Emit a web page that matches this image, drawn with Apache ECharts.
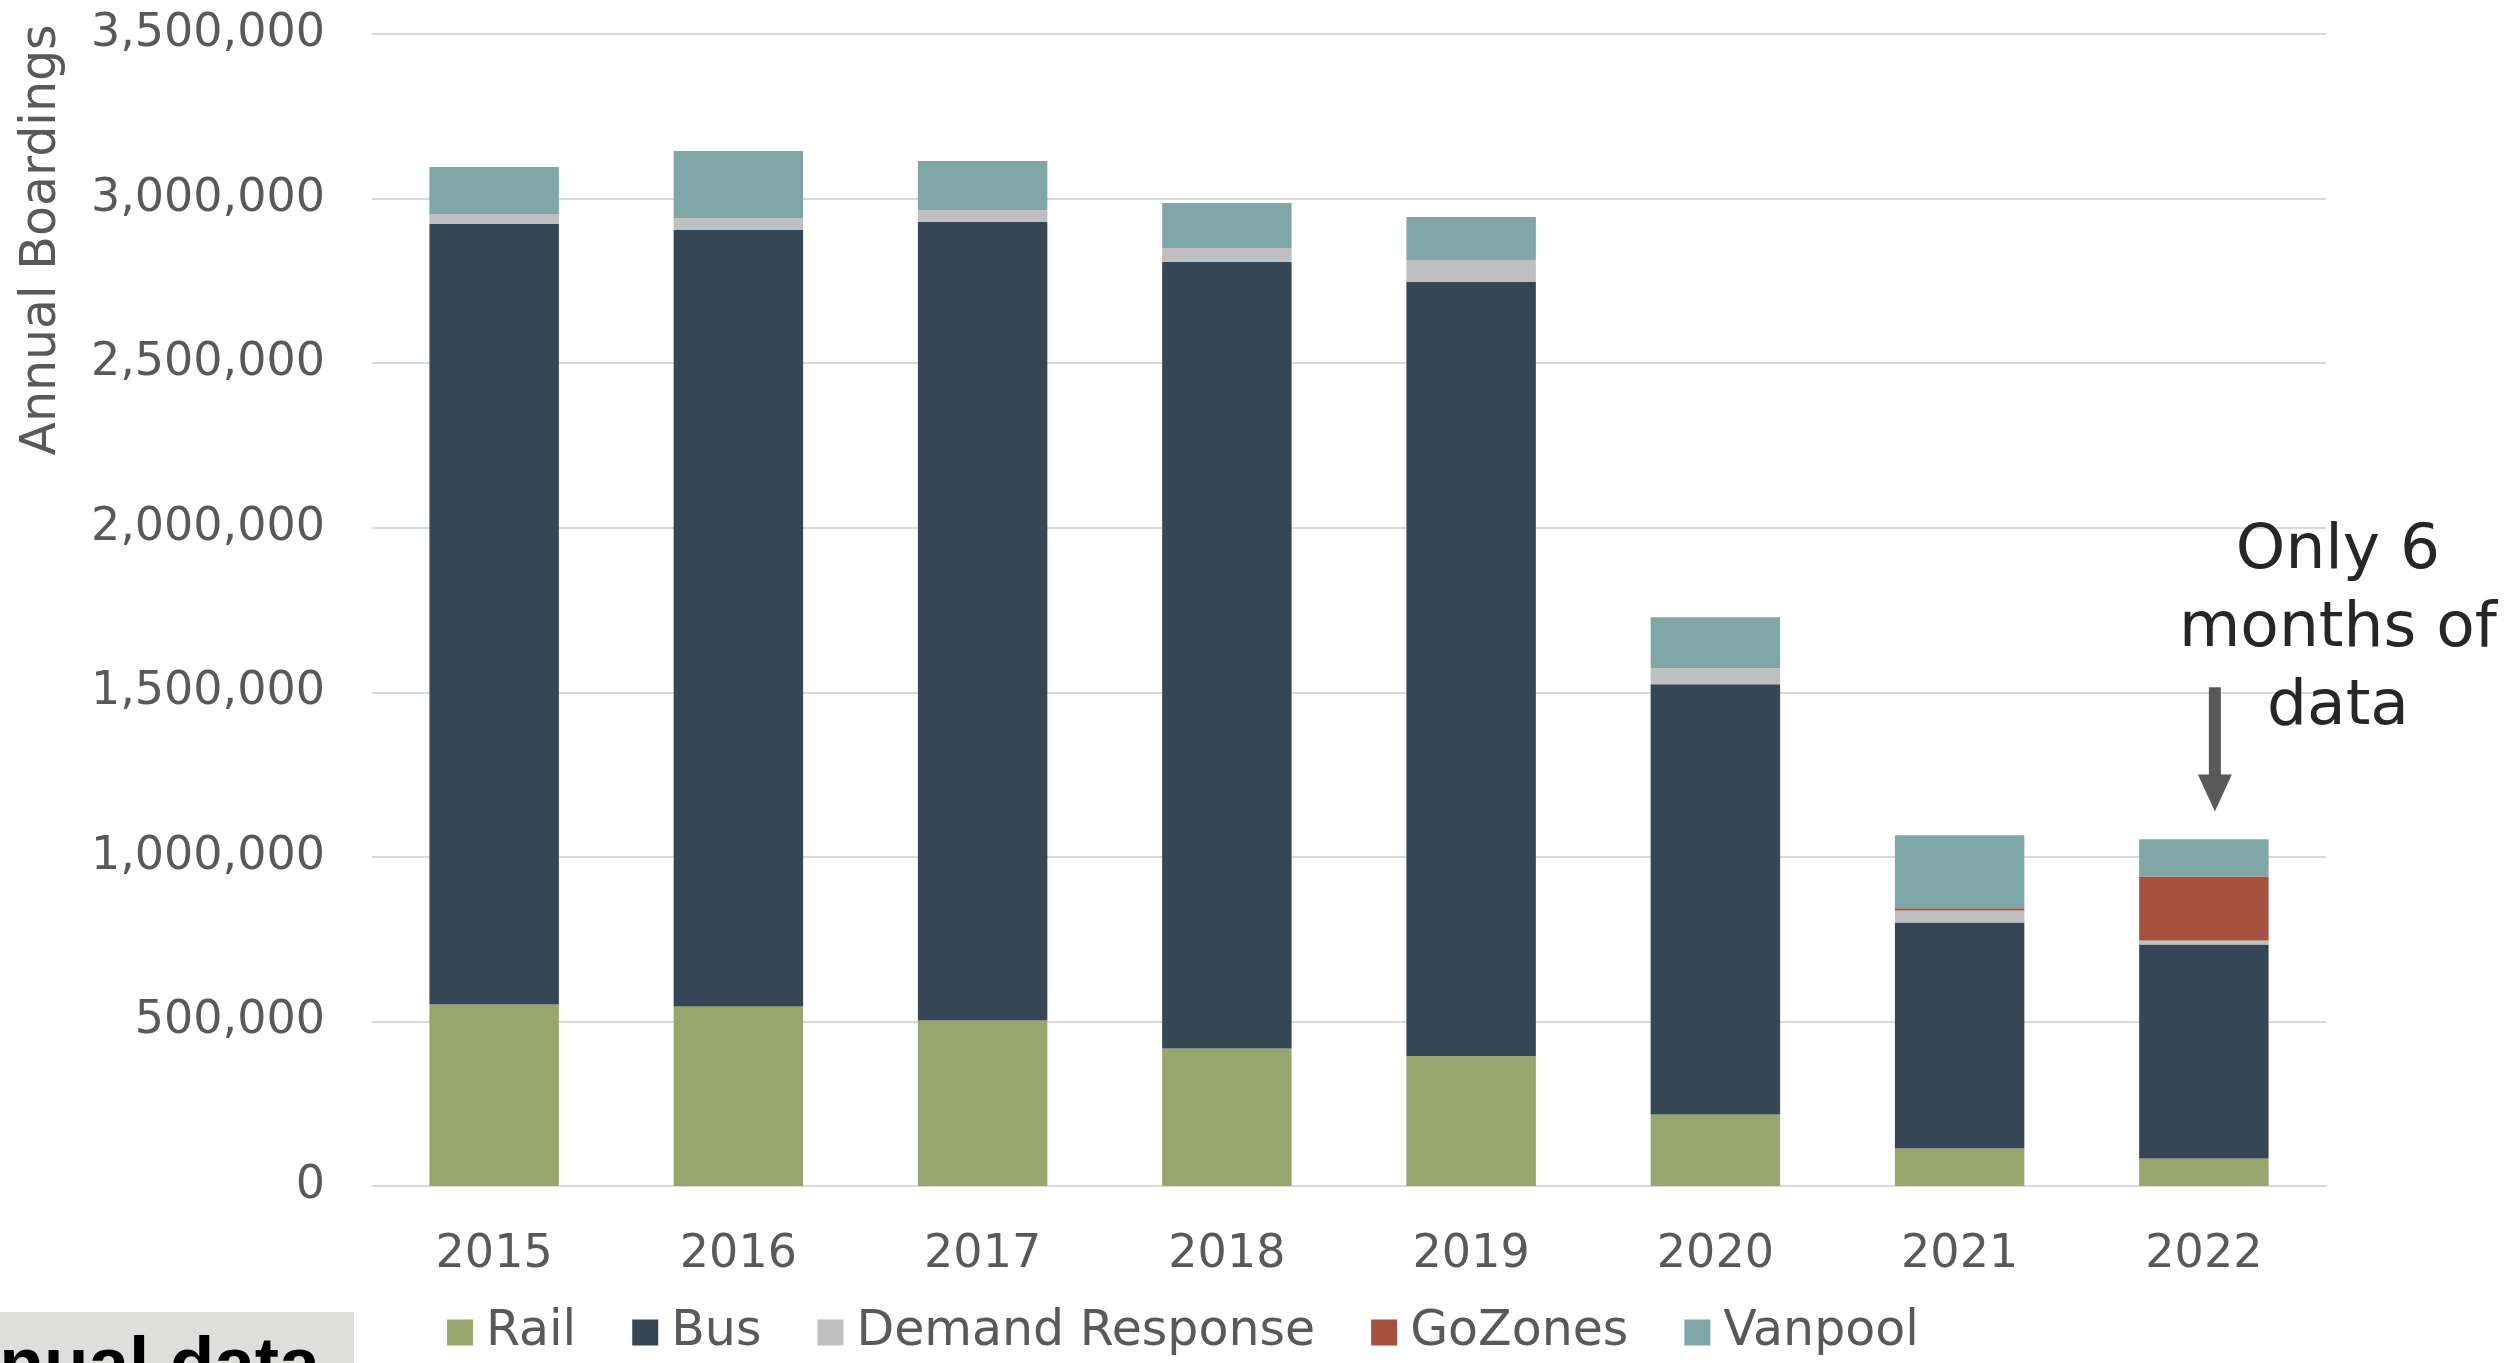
<!DOCTYPE html>
<html>
<head>
<meta charset="utf-8">
<script src="https://cdn.jsdelivr.net/npm/echarts@6/dist/echarts.min.js"></script>
<style>
  html, body { margin: 0; padding: 0; background: #fff; }
  #chart { width: 2514px; height: 1363px; }
</style>
</head>
<body>
<div id="chart"></div>
<script>
// annual boardings by mode
const years = ['2015', '2016', '2017', '2018', '2019', '2020', '2021', '2022'];
const rail = [551700, 545600, 503000, 417900, 395000, 217300, 114000, 83600];
const bus = [2370800, 2358600, 2425600, 2389100, 2351200, 1307000, 686900, 650400];
const demandResponse = [30400, 36500, 36400, 42500, 66900, 48700, 36500, 12200];
const goZones = [0, 0, 0, 0, 0, 0, 6100, 194500];
const vanpool = [142900, 203700, 148900, 136800, 130700, 155000, 221800, 112500];
const yTicks = [0, 500000, 1000000, 1500000, 2000000, 2500000, 3000000, 3500000];

const FONT = '"DejaVu Sans", sans-serif';
const GREY = '#595959';

const chart = echarts.init(document.getElementById('chart'));

function bar(name, data, color) {
  return { type: 'bar', name, stack: 'total', data, barWidth: '53%', itemStyle: { color }, emphasis: { disabled: true } };
}

chart.setOption({
  animation: false,
  backgroundColor: '#fff',
  textStyle: { fontFamily: FONT, color: GREY },
  grid: { left: 372, right: 188, top: 34, bottom: 177 },
  legend: {
    left: 442, top: 1303,
    icon: 'rect', itemWidth: 26, itemHeight: 26, itemGap: 56,
    textStyle: { fontFamily: FONT, fontSize: 49, color: GREY, padding: [0, 0, 0, 8] },
    data: ['Rail', 'Bus', 'Demand Response', 'GoZones', 'Vanpool'],
  },
  xAxis: {
    type: 'category', data: years,
    axisLine: { lineStyle: { color: '#D9D9D9', width: 2 } },
    axisTick: { show: false },
    axisLabel: { fontFamily: FONT, fontSize: 46, color: GREY, margin: 46 },
  },
  yAxis: {
    type: 'value', min: yTicks[0], max: yTicks[yTicks.length - 1], interval: 500000,
    axisLine: { show: false }, axisTick: { show: false },
    splitLine: { lineStyle: { color: '#D9D9D9', width: 2 } },
    axisLabel: { fontFamily: FONT, fontSize: 46, color: GREY, margin: 47, padding: [8, 0, 0, 0], formatter: v => v.toLocaleString('en-US') },
  },
  series: [
    bar('Rail', rail, '#98A56D'),
    bar('Bus', bus, '#354755'),
    bar('Demand Response', demandResponse, '#BFBFBF'),
    bar('GoZones', goZones, '#A5513F'),
    bar('Vanpool', vanpool, '#80A7A7'),
  ],
});

// annotation arrow + text, placed off the 2022 column
const arrowTop = chart.convertToPixel({ xAxisIndex: 0, yAxisIndex: 0 }, ['2022', 1515000]);
const arrowNeck = chart.convertToPixel({ xAxisIndex: 0, yAxisIndex: 0 }, ['2022', 1250000]);
const arrowTip = chart.convertToPixel({ xAxisIndex: 0, yAxisIndex: 0 }, ['2022', 1138000]);
const ax = arrowTop[0] + 11;

chart.setOption({
  graphic: [
    {
      type: 'text', x: 42, y: 240, rotation: Math.PI / 2,
      style: { text: 'Annual Boardings', font: '49px ' + FONT, fill: GREY, align: 'center', verticalAlign: 'middle' },
    },
    {
      type: 'polygon',
      shape: { points: [[ax - 6, arrowTop[1]], [ax + 6, arrowTop[1]], [ax + 6, arrowNeck[1]], [ax + 17, arrowNeck[1]], [ax, arrowTip[1]], [ax - 17, arrowNeck[1]], [ax - 6, arrowNeck[1]]] },
      style: { fill: GREY },
    },
    {
      type: 'text', x: 2338, y: 630,
      style: { text: 'Only 6\nmonths of\ndata', font: '63px ' + FONT, fill: '#262626', align: 'center', verticalAlign: 'middle', lineHeight: 78 },
    },
    { type: 'rect', shape: { x: 0, y: 1312, width: 354, height: 51 }, style: { fill: '#DEDEDD' } },
    {
      type: 'text', x: -98, y: 1331,
      style: { text: 'Annual data', font: 'bold 73px "Liberation Sans", sans-serif', fill: '#000', verticalAlign: 'top' },
    },
  ],
});
</script>
</body>
</html>
